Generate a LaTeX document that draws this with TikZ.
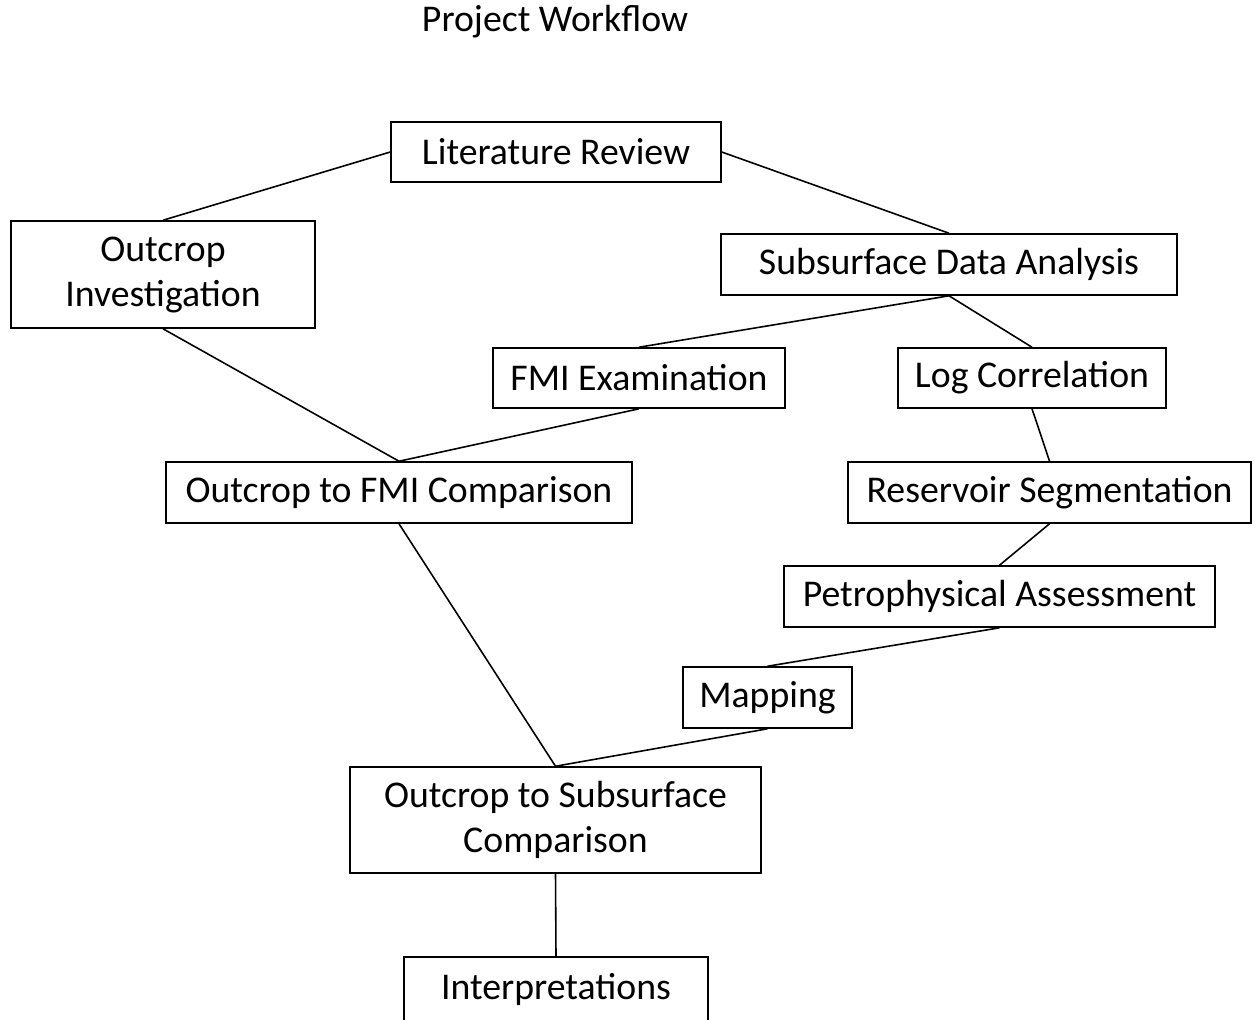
\documentclass[tikz,border=0pt]{standalone}
\usepackage{fontspec}
\setmainfont{Carlito}
\usepackage{tikz}
\usetikzlibrary{positioning}
\newcommand{\boxfont}{\fontsize{21.5}{25.6}\selectfont}

\begin{document}
\begin{tikzpicture}[x=0.02cm,y=-0.02cm,
    stage/.style={draw=black,line width=0.9pt,fill=white,inner sep=0pt,
                  align=center,font=\boxfont},
    link/.style={line width=0.9pt}]
    \useasboundingbox (0,0) rectangle (1254,1019);
    \node[font=\boxfont] (title) at (555,22) {Project Workflow};
    % boxes
    \node[stage,minimum width=6.6cm,minimum height=1.2cm]
      (lit) at (556,152) {Literature Review};
    \node[stage,minimum width=6.08cm,minimum height=2.14cm]
      (outinv) at (163,274.5) {Outcrop\\Investigation};
    \node[stage,minimum width=9.12cm,minimum height=1.22cm]
      (subsurf) at (949,264.5) {Subsurface Data Analysis};
    \node[stage,minimum width=5.84cm,minimum height=1.2cm]
      (fmi) at (639,378) {FMI Examination};
    \node[stage,minimum width=5.36cm,minimum height=1.2cm]
      (logcor) at (1032,378) {Log Correlation};
    \node[stage,minimum width=9.32cm,minimum height=1.22cm]
      (outfmi) at (399,492.5) {Outcrop to FMI Comparison};
    \node[stage,minimum width=8.06cm,minimum height=1.22cm]
      (reseg) at (1049.5,492.5) {Reservoir Segmentation};
    \node[stage,minimum width=8.62cm,minimum height=1.22cm]
      (petro) at (999.5,596.5) {Petrophysical Assessment};
    \node[stage,minimum width=3.38cm,minimum height=1.22cm]
      (mapping) at (767.5,697.5) {Mapping};
    \node[stage,minimum width=8.22cm,minimum height=2.12cm]
      (outsub) at (555.5,820) {Outcrop to Subsurface\\Comparison};
    \node[stage,minimum width=6.08cm,minimum height=1.28cm]
      (interp) at (556,989) {Interpretations};
    % connectors
    \draw[link] (lit.west) -- (outinv.north);
    \draw[link] (lit.east) -- (subsurf.north);
    \draw[link] (subsurf.south) -- (fmi.north);
    \draw[link] (subsurf.south) -- (logcor.north);
    \draw[link] (outinv.south) -- (outfmi.north);
    \draw[link] (fmi.south) -- (outfmi.north);
    \draw[link] (logcor.south) -- (reseg.north);
    \draw[link] (reseg.south) -- (petro.north);
    \draw[link] (petro.south) -- (mapping.north);
    \draw[link] (outfmi.south) -- (outsub.north);
    \draw[link] (mapping.south) -- (outsub.north);
    \draw[link] (outsub.south) -- (interp.north);
\end{tikzpicture}
\end{document}
